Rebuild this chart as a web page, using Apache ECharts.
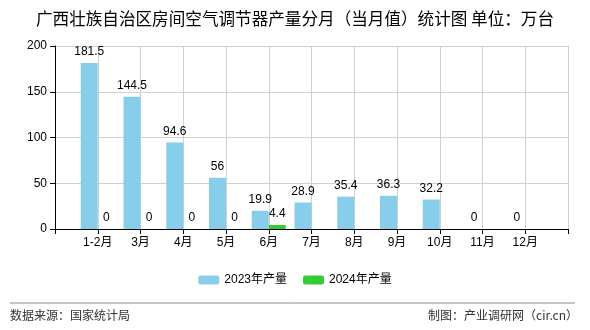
<!DOCTYPE html>
<html><head><meta charset="utf-8">
<script src="https://cdn.jsdelivr.net/npm/echarts@6/dist/echarts.min.js"></script>
<style>html,body{margin:0;padding:0;background:#fff}#c{width:590px;height:330px}</style>
</head><body><div id="c"></div>
<script>
var categories = ['', '1-2月', '3月', '4月', '5月', '6月', '7月', '8月', '9月', '10月', '11月', '12月', ''];
var series2023 = [null, 181.5, 144.5, 94.6, 56, 19.9, 28.9, 35.4, 36.3, 32.2, 0, 0, null];
var series2024 = [null, 0, 0, 0, 0, 4.4, null, null, null, null, null, null, null];
var yTicks = [0, 50, 100, 150, 200];
var titleText = '广西壮族自治区房间空气调节器产量分月（当月值）统计图 单位：万台';
var sourceText = '数据来源：国家统计局';
var makerText = '制图：产业调研网（cir.cn）';

var FF = 'Liberation Sans, Noto Sans CJK SC, sans-serif';
var chart = echarts.init(document.getElementById('c'));
chart.setOption({
  animation: false,
  backgroundColor: '#fff',
  title: {text: titleText, left: 'center', top: 5,
    textStyle: {fontSize: 16.6, fontWeight: 'normal', color: '#000', fontFamily: 'Noto Sans CJK SC, sans-serif'}},
  legend: {top: 269, left: 'center', itemWidth: 21, itemHeight: 9, itemGap: 16,
    textStyle: {fontSize: 12, color: '#000', fontFamily: FF},
    data: ['2023年产量', '2024年产量']},
  grid: {left: 55, right: 22, top: 46, bottom: 101},
  xAxis: {type: 'category', data: categories, boundaryGap: false,
    axisLine: {lineStyle: {color: '#000'}},
    axisTick: {show: true, length: 5, lineStyle: {color: '#000'}},
    axisLabel: {color: '#000', fontSize: 12, fontFamily: FF, margin: 8},
    splitLine: {show: true, lineStyle: {color: '#d0d0d0'}}},
  yAxis: {type: 'value', min: yTicks[0], max: yTicks[yTicks.length-1], interval: 50,
    axisLine: {show: true, lineStyle: {color: '#000'}},
    axisTick: {show: true, length: 5, lineStyle: {color: '#000'}},
    axisLabel: {color: '#000', fontSize: 12, fontFamily: FF, margin: 8},
    splitLine: {show: true, lineStyle: {color: '#d0d0d0'}}},
  series: [
    {name: '2023年产量', type: 'bar', data: series2023, barWidth: 17, barGap: '0%',
      itemStyle: {color: '#87CEEB'},
      label: {show: true, position: 'top', color: '#000', fontSize: 12, fontFamily: FF, distance: 5}},
    {name: '2024年产量', type: 'bar', data: series2024, barWidth: 17, barGap: '0%',
      itemStyle: {color: '#33CC33'},
      label: {show: true, position: 'top', color: '#000', fontSize: 12, fontFamily: FF, distance: 5}}
  ],
  graphic: [
    {type: 'line', shape: {x1: 10, y1: 303, x2: 575, y2: 303}, style: {stroke: '#888', lineWidth: 1}},
    {type: 'text', left: 10, top: 309, style: {text: sourceText, fontSize: 12, fill: '#333', fontFamily: 'Noto Sans CJK SC, sans-serif'}},
    {type: 'text', right: 12, top: 309, style: {text: makerText, fontSize: 12, fill: '#333', fontFamily: 'Noto Sans CJK SC, sans-serif'}}
  ]
});
</script></body></html>
